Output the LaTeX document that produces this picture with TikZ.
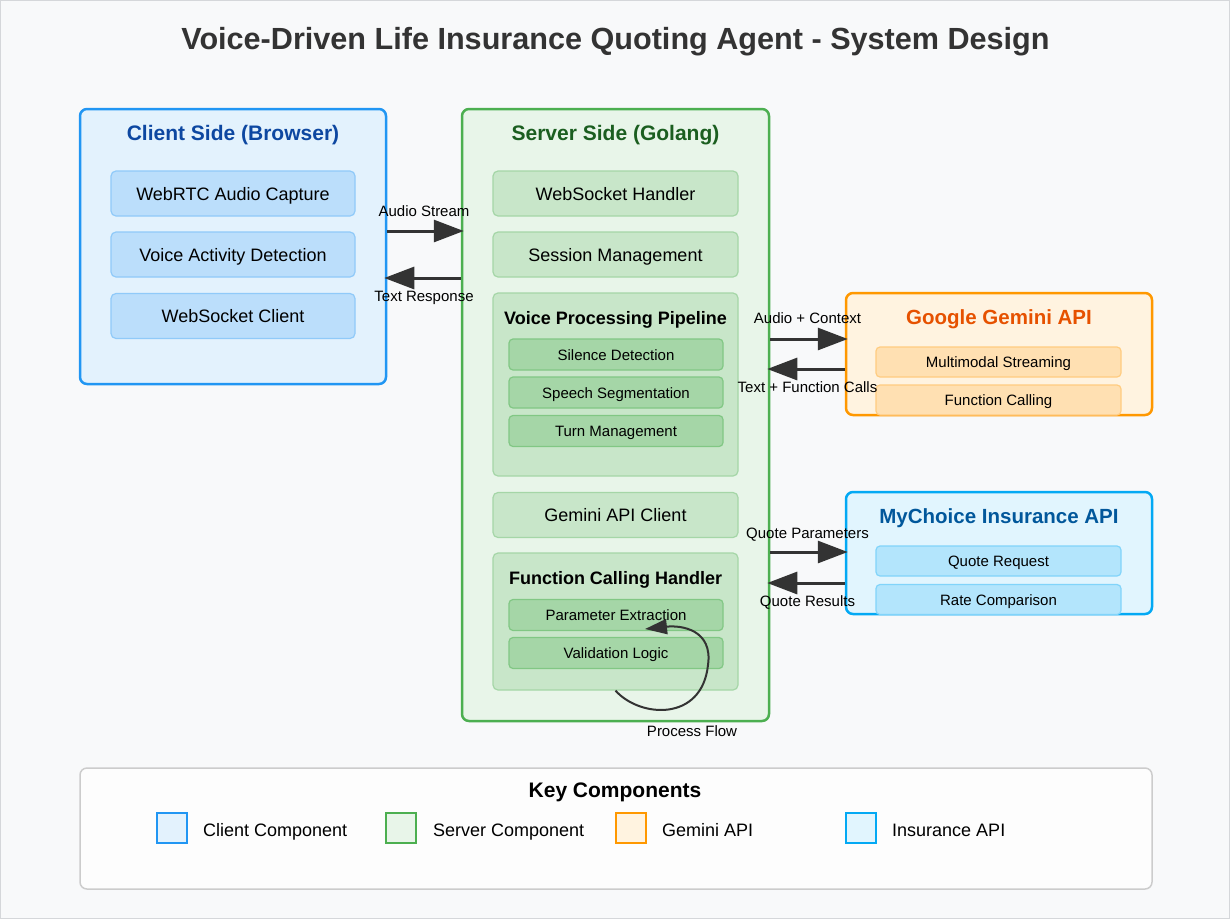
\documentclass[tikz,border=0pt]{standalone}
\usepackage{fontspec}
\setmainfont{Liberation Sans}
\usetikzlibrary{arrows.meta}
\newcommand\myfs[1]{\fontsize{#1}{#1}\selectfont}
\definecolor{bgc}{HTML}{F8F9FA}
\definecolor{bordc}{HTML}{D5D7DA}
\definecolor{txt}{HTML}{333333}
\definecolor{cfill}{HTML}{E3F2FD}
\definecolor{cstroke}{HTML}{2196F3}
\definecolor{cin}{HTML}{BBDEFB}
\definecolor{cinst}{HTML}{90CAF9}
\definecolor{ctitle}{HTML}{0D47A1}
\definecolor{sfill}{HTML}{E8F5E9}
\definecolor{sstroke}{HTML}{4CAF50}
\definecolor{sin}{HTML}{C8E6C9}
\definecolor{sinst}{HTML}{A5D6A7}
\definecolor{sin2}{HTML}{A5D6A7}
\definecolor{sin2st}{HTML}{81C784}
\definecolor{stitle}{HTML}{1B5E20}
\definecolor{gfill}{HTML}{FFF3E0}
\definecolor{gstroke}{HTML}{FF9800}
\definecolor{gin}{HTML}{FFE0B2}
\definecolor{ginst}{HTML}{FFCC80}
\definecolor{gtitle}{HTML}{E65100}
\definecolor{ifill}{HTML}{E1F5FE}
\definecolor{istroke}{HTML}{03A9F4}
\definecolor{iin}{HTML}{B3E5FC}
\definecolor{iinst}{HTML}{81D4FA}
\definecolor{ititle}{HTML}{01579B}
\definecolor{lgfill}{HTML}{FDFDFD}
\definecolor{lgstroke}{HTML}{CCCCCC}
\begin{document}
\begin{tikzpicture}[x=1pt,y=-1pt,
  container/.style={draw, rounded corners=7pt, line width=2.5pt, inner sep=0pt, minimum width=#1},
  inbox/.style={draw, rounded corners=5pt, line width=1.2pt, inner sep=0pt, text=black, font=\myfs{18}, text height=13.5pt, text depth=0pt},
  smallbox/.style={draw, rounded corners=4pt, line width=1.2pt, inner sep=0pt, minimum width=214pt, minimum height=31pt, fill=sin2, draw=sin2st, text=black, font=\myfs{15}, text height=11.2pt, text depth=0pt},
  apibox/.style={draw, rounded corners=4pt, line width=1.2pt, inner sep=0pt, minimum width=245pt, minimum height=30pt, text=black, font=\myfs{15}, text height=11.2pt, text depth=0pt},
  ttl/.style={font=\bfseries\myfs{21}, inner sep=0pt, text height=15.7pt, text depth=0pt},
  subttl/.style={font=\bfseries\myfs{18}, inner sep=0pt, text=black, text height=13.5pt, text depth=0pt},
  lbl/.style={font=\myfs{15}, inner sep=0pt, text=black, text height=11.2pt, text depth=0pt},
  bigarr/.style={draw=txt, line width=3pt, shorten >=-3pt, -{Triangle[length=30pt,width=22pt]}},
  swatch/.style={draw, line width=1.5pt, minimum width=30pt, minimum height=30pt, inner sep=0pt},
  legtxt/.style={font=\myfs{18}, inner sep=0pt, anchor=west, text=black, text height=13.5pt, text depth=0pt}
]
\useasboundingbox (0,0) rectangle (1230,919);
\fill[bgc] (0,0) rectangle (1230,919);
\draw[bordc, line width=1pt] (0.5,0.5) rectangle (1229.5,918.5);

% title
\node[font=\bfseries\myfs{30.6}, text=txt, inner sep=0pt, text height=23pt, text depth=0pt] (title) at (615.5,38) {Voice-Driven Life Insurance Quoting Agent - System Design};

% client side
\node[container=306pt, minimum height=275pt, fill=cfill, draw=cstroke] (client) at (233,246.5) {};
\node[ttl, text=ctitle] (clientT) at (233,133) {Client Side (Browser)};
\node[inbox, fill=cin, draw=cinst, minimum width=244pt, minimum height=45pt] (webrtc) at (233,193.5) {WebRTC Audio Capture};
\node[inbox, fill=cin, draw=cinst, minimum width=244pt, minimum height=45pt] (vad) at (233,254.5) {Voice Activity Detection};
\node[inbox, fill=cin, draw=cinst, minimum width=244pt, minimum height=45pt] (wsc) at (233,316) {WebSocket Client};

% server side
\node[container=307pt, minimum height=612pt, fill=sfill, draw=sstroke] (server) at (615.5,415) {};
\node[ttl, text=stitle] (serverT) at (615.5,133) {Server Side (Golang)};
\node[inbox, fill=sin, draw=sinst, minimum width=245pt, minimum height=45pt] (wsh) at (615.5,193.5) {WebSocket Handler};
\node[inbox, fill=sin, draw=sinst, minimum width=245pt, minimum height=45pt] (sess) at (615.5,254.5) {Session Management};
\node[inbox, fill=sin, draw=sinst, minimum width=245pt, minimum height=183pt] (vpp) at (615.5,384.5) {};
\node[subttl] (vppT) at (615.5,318) {Voice Processing Pipeline};
\node[smallbox] (sil) at (616,354.5) {Silence Detection};
\node[smallbox] (seg) at (616,392.5) {Speech Segmentation};
\node[smallbox] (turn) at (616,431) {Turn Management};
\node[inbox, fill=sin, draw=sinst, minimum width=245pt, minimum height=45pt] (gac) at (615.5,515) {Gemini API Client};
\node[inbox, fill=sin, draw=sinst, minimum width=245pt, minimum height=137pt] (fch) at (615.5,621.5) {};
\node[subttl] (fchT) at (615.5,578) {Function Calling Handler};
\node[smallbox] (pe) at (616,615) {Parameter Extraction};
\node[smallbox] (vl) at (616,653) {Validation Logic};

% gemini api
\node[container=306pt, minimum height=122pt, fill=gfill, draw=gstroke] (gem) at (999,354) {};
\node[ttl, text=gtitle, font=\bfseries\myfs{20.5}, text height=15.4pt] (gemT) at (999,317) {Google Gemini API};
\node[apibox, fill=gin, draw=ginst] (mms) at (998.5,362) {Multimodal Streaming};
\node[apibox, fill=gin, draw=ginst] (fc) at (998.5,400) {Function Calling};

% insurance api
\node[container=306pt, minimum height=122pt, fill=ifill, draw=istroke] (ins) at (999,553) {};
\node[ttl, text=ititle, font=\bfseries\myfs{20.5}, text height=15.4pt] (insT) at (999,516) {MyChoice Insurance API};
\node[apibox, fill=iin, draw=iinst] (qr) at (998.5,561) {Quote Request};
\node[apibox, fill=iin, draw=iinst] (rc) at (998.5,599.5) {Rate Comparison};

% connectors
\draw[bigarr] (client.east |- 0,231) -- node[lbl, midway, yshift=20pt] {Audio Stream} (server.west |- 0,231);
\draw[bigarr] (server.west |- 0,278) -- node[lbl, midway, yshift=-18pt] {Text Response} (client.east |- 0,278);
\draw[bigarr] (server.east |- 0,339) -- node[lbl, midway, yshift=21pt] {Audio + Context} (gem.west |- 0,339);
\draw[bigarr] (gem.west |- 0,369) -- node[lbl, midway, yshift=-18pt] {Text + Function Calls} (server.east |- 0,369);
\draw[bigarr] (server.east |- 0,552) -- node[lbl, midway, yshift=19pt] {Quote Parameters} (ins.west |- 0,552);
\draw[bigarr] (ins.west |- 0,583) -- node[lbl, midway, yshift=-18pt] {Quote Results} (server.east |- 0,583);

% process flow loop
\coordinate (pftip) at (645,629);
\draw[draw=txt, line width=2pt, -{Triangle[length=22pt,width=15pt]}]
  (fch.south) .. controls (640,718) and (702,722) .. (708,665)
  .. controls (713,630) and (682,625) .. (pftip);
\node[lbl] (pfl) at (692,731) {Process Flow};

% legend
\node[draw=lgstroke, fill=lgfill, rounded corners=7pt, line width=1.5pt, minimum width=1072pt, minimum height=121pt, inner sep=0pt] (legend) at (616,828.5) {};
\node[font=\bfseries\myfs{21}, inner sep=0pt, text=black, text height=15.7pt, text depth=0pt] (legT) at (615,790) {Key Components};
\node[swatch, fill=cfill, draw=cstroke] (sw1) at (172,828) {};
\node[legtxt] (lg1) at (203,830) {Client Component};
\node[swatch, fill=sfill, draw=sstroke] (sw2) at (401,828) {};
\node[legtxt] (lg2) at (433,830) {Server Component};
\node[swatch, fill=gfill, draw=gstroke] (sw3) at (631,828) {};
\node[legtxt] (lg3) at (662,830) {Gemini API};
\node[swatch, fill=ifill, draw=istroke] (sw4) at (861,828) {};
\node[legtxt] (lg4) at (892,830) {Insurance API};
\end{tikzpicture}
\end{document}
